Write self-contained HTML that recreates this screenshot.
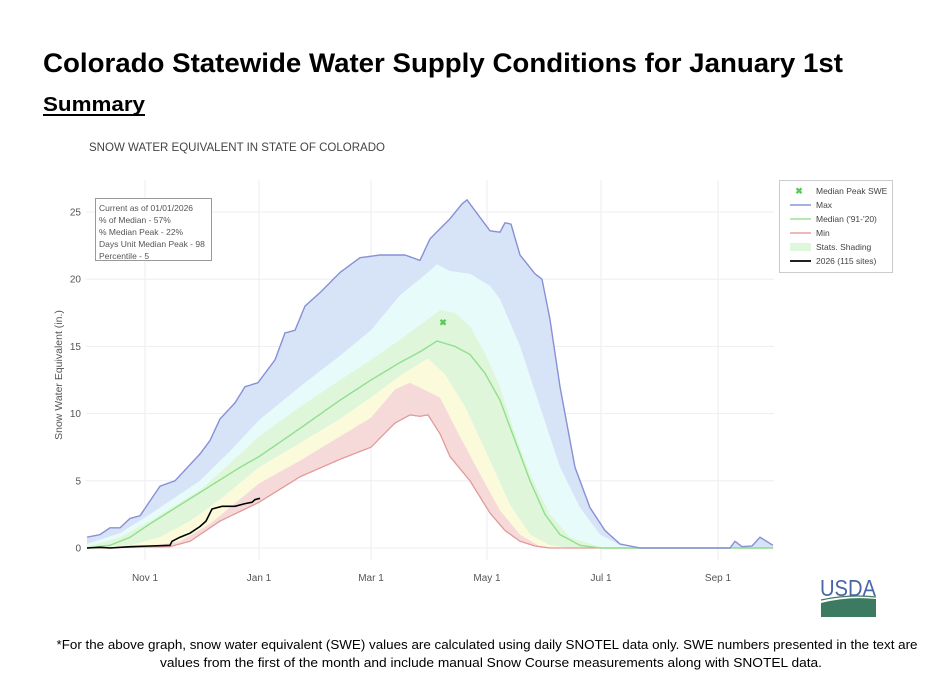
<!DOCTYPE html>
<html><head><meta charset="utf-8"><style>
html,body{margin:0;padding:0;background:#fff;width:936px;height:684px;overflow:hidden}
svg text{font-family:"Liberation Sans",sans-serif}
</style></head><body>
<svg id="s" width="936" height="684" viewBox="0 0 936 684" xmlns="http://www.w3.org/2000/svg">
<text x="43" y="72" font-size="27" font-weight="bold" textLength="800" lengthAdjust="spacingAndGlyphs">Colorado Statewide Water Supply Conditions for January 1st</text>
<text x="43" y="111" font-size="20" font-weight="bold" textLength="102" lengthAdjust="spacingAndGlyphs">Summary</text>
<rect x="43" y="114" width="102" height="2" fill="#000"/>
<text x="89" y="151" font-size="12" fill="#444" textLength="296" lengthAdjust="spacingAndGlyphs">SNOW WATER EQUIVALENT IN STATE OF COLORADO</text>
<g id="grid" stroke="#eceef2" stroke-width="1"></g>
<g id="bands"></g>
<g id="ticks" font-size="10" fill="#555"></g>
<text transform="translate(62,375) rotate(-90)" font-size="10.5" fill="#555" text-anchor="middle">Snow Water Equivalent (in.)</text>
<rect x="95.5" y="198.5" width="116" height="62" fill="#fff" stroke="#999"/>
<g font-size="8.5" fill="#555">
<text x="99" y="211">Current as of 01/01/2026</text>
<text x="99" y="223">% of Median - 57%</text>
<text x="99" y="235">% Median Peak - 22%</text>
<text x="99" y="247">Days Unit Median Peak - 98</text>
<text x="99" y="259">Percentile - 5</text>
</g>
<rect x="779.5" y="180.5" width="113" height="92" fill="#fff" stroke="#ccc"/>
<g font-size="8.5" fill="#444">
<text x="799" y="194" fill="#5c5" font-size="9" text-anchor="middle" font-weight="bold">✖</text>
<text x="816" y="194">Median Peak SWE</text>
<line x1="790" y1="205" x2="811" y2="205" stroke="#8c96d8" stroke-width="1.5"/><text x="816" y="208">Max</text>
<line x1="790" y1="219" x2="811" y2="219" stroke="#9be29b" stroke-width="1.5"/><text x="816" y="222">Median ('91-'20)</text>
<line x1="790" y1="233" x2="811" y2="233" stroke="#e8a0a0" stroke-width="1.5"/><text x="816" y="236">Min</text>
<rect x="790" y="243" width="21" height="8" fill="#dff7dc"/><text x="816" y="250">Stats. Shading</text>
<line x1="790" y1="261" x2="811" y2="261" stroke="#000" stroke-width="1.8"/><text x="816" y="264">2026 (115 sites)</text>
</g>
<text x="848" y="596" font-size="23" fill="#4a66a8" text-anchor="middle" font-family="Liberation Serif" textLength="56" lengthAdjust="spacingAndGlyphs">USDA</text>
<path d="M821 603 Q848 596 876 599 L876 617 L821 617 Z" fill="#3d7a62"/>
<path d="M821 600 Q848 594 876 597" stroke="#3d7a62" fill="none" stroke-width="1.2"/>
<text x="487" y="649" font-size="13" text-anchor="middle" textLength="861" lengthAdjust="spacingAndGlyphs">*For the above graph, snow water equivalent (SWE) values are calculated using daily SNOTEL data only. SWE numbers presented in the text are</text>
<text x="491" y="667" font-size="13" text-anchor="middle" textLength="662" lengthAdjust="spacingAndGlyphs">values from the first of the month and include manual Snow Course measurements along with SNOTEL data.</text>
</svg>
<script>
const Y=v=>548-v*13.44;
const NS="http://www.w3.org/2000/svg";
function el(p,t,a){const e=document.createElementNS(NS,t);for(const k in a)e.setAttribute(k,a[k]);p.appendChild(e);return e;}
const g=document.getElementById('grid'),b=document.getElementById('bands'),tk=document.getElementById('ticks');
const months=[[145,'Nov 1'],[259,'Jan 1'],[371,'Mar 1'],[487,'May 1'],[601,'Jul 1'],[718,'Sep 1']];
months.forEach(m=>{el(g,'line',{x1:m[0],x2:m[0],y1:180,y2:560});const t=el(tk,'text',{x:m[0],y:581,'text-anchor':'middle'});t.textContent=m[1];});
[0,5,10,15,20,25].forEach(v=>{el(g,'line',{x1:86,x2:774,y1:Y(v),y2:Y(v)});const t=el(tk,'text',{x:81,y:Y(v)+3.5,'text-anchor':'end'});t.textContent=v;});
function interp(pts){const out=[];for(let x=87;x<=773;x++){let i=0;while(i<pts.length-1&&pts[i+1][0]<x)i++;const a=pts[i],c=pts[Math.min(i+1,pts.length-1)];let v;if(x<=a[0])v=a[1];else if(c[0]<=a[0])v=a[1];else v=a[1]+(c[1]-a[1])*(x-a[0])/(c[0]-a[0]);if(x>pts[pts.length-1][0])v=pts[pts.length-1][1];out.push([x,v]);}return out;}
const MAX=interp([[87,0.8],[100,1.0],[110,1.5],[120,1.5],[130,2.2],[140,2.4],[150,3.5],[160,4.6],[175,5],[190,6.2],[200,7],[210,8],[220,9.6],[235,10.8],[245,12],[258,12.3],[275,14],[285,16],[295,16.2],[305,18],[320,19],[340,20.5],[360,21.6],[380,21.8],[405,21.8],[420,21.4],[430,23],[450,24.5],[462,25.6],[467,25.9],[478,24.8],[490,23.6],[500,23.5],[505,24.2],[511,24.1],[520,21.8],[535,20.4],[542,20],[550,17],[560,12],[575,6],[590,3],[605,1.3],[620,0.3],[640,0],[700,0],[730,0],[735,0.5],[742,0.1],[752,0.15],[760,0.8],[773,0.2]]);
const P90=interp([[87,0.3],[120,1.1],[150,2.5],[180,4],[200,5],[230,7.2],[259,9.5],[300,12],[340,14.3],[371,16.2],[400,18.8],[420,20],[437,21.1],[450,20.6],[470,20.4],[490,19.5],[500,18.5],[520,15],[540,10.5],[560,6],[580,3],[600,1],[620,0.2],[640,0],[773,0]]);
const P70=interp([[87,0.1],[120,0.8],[150,2],[180,3.4],[200,4.3],[230,6.3],[259,8.3],[300,10.5],[340,12.5],[371,14],[400,15.5],[420,16.6],[440,17.7],[455,17.5],[470,16.5],[485,14.5],[500,12],[515,8.5],[530,5.5],[550,2.5],[570,0.8],[600,0.1],[620,0],[773,0]]);
const MED=interp([[87,0],[110,0.2],[130,0.8],[150,1.8],[180,3.2],[210,4.6],[240,6],[259,6.8],[300,8.9],[340,11],[371,12.5],[400,13.8],[420,14.6],[437,15.4],[455,15],[470,14.4],[485,13],[500,11],[515,8],[530,5],[545,2.5],[560,1],[580,0.2],[600,0],[773,0]]);
const P30=interp([[87,0],[130,0.2],[160,0.8],[190,2],[220,3.6],[259,6],[300,7.8],[340,9.6],[371,11.2],[400,12.8],[428,14.1],[445,12.9],[465,10.5],[490,6.5],[510,3.2],[530,1],[550,0.2],[570,0],[773,0]]);
const P10=interp([[87,0],[150,0.1],[180,0.5],[210,1.8],[259,4.8],[300,6.5],[340,8.3],[371,9.7],[395,11.8],[410,12.3],[440,11.2],[455,9],[480,5.5],[500,2.8],[520,1],[540,0.1],[560,0],[773,0]]);
const MIN=interp([[87,0],[170,0.1],[190,0.5],[220,2],[259,3.4],[300,5.3],[340,6.6],[371,7.5],[395,9.3],[410,9.9],[420,9.8],[428,9.9],[440,8.5],[450,6.8],[470,5],[490,2.6],[505,1.3],[520,0.5],[535,0.15],[550,0],[773,0]]);
function line(a){return a.map((p,i)=>(i?'L':'M')+p[0]+' '+Y(p[1]).toFixed(1)).join(' ');}
function band(a,c){return line(a)+' '+c.slice().reverse().map(p=>'L'+p[0]+' '+Y(p[1]).toFixed(1)).join(' ')+'Z';}
const fills=[[MAX,P90,'#d7e3f7'],[P90,P70,'#e7fbfb'],[P70,P30,'#dff6da'],[P30,P10,'#fbfbdc'],[P10,MIN,'#f6dada']];
fills.forEach(f=>el(b,'path',{d:band(f[0],f[1]),fill:f[2]}));
el(b,'path',{d:line(MIN),fill:'none',stroke:'#e3999a','stroke-width':1.3});
el(b,'path',{d:line(MED),fill:'none',stroke:'#8fe08f','stroke-width':1.4});
el(b,'path',{d:line(MAX),fill:'none',stroke:'#8790d6','stroke-width':1.4});
const C=[[87,0],[100,0.05],[110,0],[130,0.1],[150,0.15],[170,0.2],[172,0.5],[180,0.8],[190,1.1],[200,1.6],[206,2],[212,2.9],[222,3.1],[235,3.1],[245,3.3],[252,3.4],[255,3.6],[260,3.7]];
el(b,'path',{d:C.map((p,i)=>(i?'L':'M')+p[0]+' '+Y(p[1]).toFixed(1)).join(' '),fill:'none',stroke:'#000','stroke-width':1.6});
const t=el(b,'text',{x:443,y:Y(16.8)+3.5,'font-size':9,fill:'#5c5','text-anchor':'middle','font-weight':'bold'});t.textContent='✖';
</script>
</body></html>
